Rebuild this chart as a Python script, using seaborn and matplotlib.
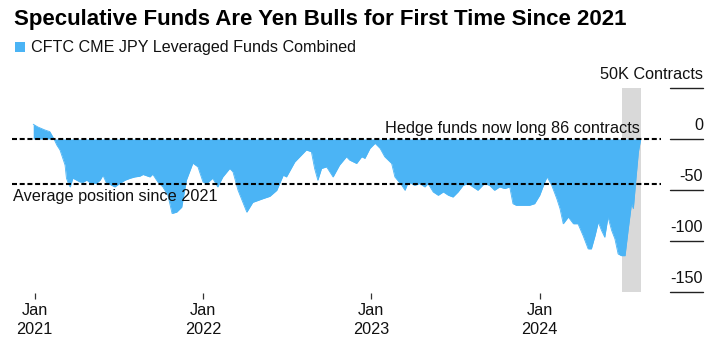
import matplotlib
matplotlib.use("Agg")
import matplotlib.pyplot as plt
import seaborn as sns
import pandas as pd
from matplotlib.patches import Rectangle

# ---------------- data ----------------
dates = ["2020-12-29","2021-01-08","2021-01-23","2021-02-03","2021-02-12","2021-02-18","2021-02-25","2021-03-03",
         "2021-03-08","2021-03-11","2021-03-15","2021-03-19","2021-03-25","2021-04-02","2021-04-09","2021-04-16",
         "2021-04-24","2021-05-03","2021-05-15","2021-05-23","2021-05-29","2021-06-05","2021-06-17","2021-06-24",
         "2021-07-05","2021-07-16","2021-07-27","2021-08-06","2021-08-17","2021-08-24","2021-09-08","2021-09-14",
         "2021-09-25","2021-10-06","2021-10-17","2021-10-26","2021-11-05","2021-11-16","2021-11-26","2021-12-10",
         "2021-12-21","2022-01-01","2022-01-09","2022-01-22","2022-02-02","2022-02-13","2022-02-28","2022-03-07",
         "2022-03-18","2022-04-06","2022-04-19","2022-05-11","2022-05-26","2022-06-10","2022-06-24","2022-07-01",
         "2022-07-19","2022-08-13","2022-08-24","2022-08-31","2022-09-07","2022-09-15","2022-09-26","2022-10-10",
         "2022-10-24","2022-11-08","2022-11-15","2022-11-30","2022-12-11","2022-12-18","2022-12-29","2023-01-09",
         "2023-01-20","2023-01-30","2023-02-14","2023-02-21","2023-03-08","2023-03-15","2023-03-22","2023-04-05",
         "2023-04-16","2023-04-27","2023-05-04","2023-05-15","2023-05-26","2023-06-06","2023-06-17","2023-06-27",
         "2023-07-08","2023-07-19","2023-07-30","2023-08-09","2023-08-20","2023-09-03","2023-09-14","2023-09-25",
         "2023-10-06","2023-10-17","2023-10-28","2023-11-04","2023-11-11","2023-11-25","2023-12-10","2023-12-21",
         "2024-01-01","2024-01-12","2024-01-17","2024-01-27","2024-02-07","2024-02-14","2024-02-21","2024-03-03",
         "2024-03-14","2024-03-24","2024-04-04","2024-04-15","2024-04-22","2024-04-30","2024-05-07","2024-05-14",
         "2024-05-21","2024-05-28","2024-06-05","2024-06-12","2024-06-19","2024-06-26","2024-07-04","2024-07-11",
         "2024-07-18","2024-07-22","2024-07-27","2024-08-02","2024-08-07"]
positions = [14.5, 11.8, 8.9, 7.2, 0, -5.9, -10.8, -18.7,
             -25.6, -38.4, -43.4, -47, -38.4, -40.4, -42.1, -42.4,
             -40.4, -43.4, -43.4, -40.4, -35.5, -42.4, -45.4, -47,
             -43.4, -40.4, -38.5, -37.2, -36.5, -34.8, -37.2, -34.5,
             -42.1, -47, -55.2, -73, -71.7, -66.8, -40.4, -23.7,
             -27.3, -42.1, -43.7, -38.5, -47, -37.2, -28.9, -32.2,
             -50.3, -71.7, -62.1, -58.5, -56.2, -50.3, -35.5, -37.2,
             -22.5, -10.8, -12.5, -28.9, -40.4, -28.9, -27.3, -37.2,
             -25.6, -17.4, -20.7, -24, -17.4, -19, -9.2, -4.2,
             -9.2, -17.4, -24, -37.2, -45.4, -50.3, -42.1, -45.4,
             -43.7, -47, -43.7, -51.9, -55.2, -51.9, -55.2, -56.9,
             -51.9, -45.4, -43.7, -47, -50.3, -43.7, -45.4, -50.3,
             -47, -48.6, -47, -63.4, -65, -65, -65, -63.4,
             -55.2, -42.1, -37.2, -45.4, -58.5, -68.3, -83.1, -76.5,
             -83.1, -83.1, -94.7, -107.7, -107.7, -94.7, -81.5, -89.7,
             -96.3, -76.5, -89.7, -97.9, -112.7, -114.4, -114.4, -88.1,
             -63.4, -68.3, -42.1, -12.5, 0.086]
average_position = -44.2
shade_start, shade_end = "2024-06-27", "2024-08-07"

xtick_dates = ["2021-01-01", "2022-01-01", "2023-01-01", "2024-01-01"]
xtick_labels = ["Jan\n2021", "Jan\n2022", "Jan\n2023", "Jan\n2024"]
ytick_values = [50, 0, -50, -100, -150]
ytick_labels = ["50K Contracts", "0", "-50", "-100", "-150"]

title = "Speculative Funds Are Yen Bulls for First Time Since 2021"
series_name = "CFTC CME JPY Leveraged Funds Combined"
note_now = "Hedge funds now long 86 contracts"
note_avg = "Average position since 2021"

# ---------------- style ----------------
sns.set_theme(style="white")
plt.rcParams["font.family"] = ["Liberation Sans", "DejaVu Sans"]
BLUE = "#4BB4F5"
GREY = "#d9d9d9"
TXT = "#111111"
FS = 11.7

df = pd.DataFrame({"date": pd.to_datetime(dates), "value": positions})

W, H = 718, 346
fig = plt.figure(figsize=(W / 100, H / 100), dpi=100)
ax = fig.add_axes([12 / W, (H - 292) / H, 691 / W, 204 / H])
ax.set_xlim(pd.Timestamp("2020-11-13"), pd.Timestamp("2024-12-20"))
ax.set_ylim(-150, 50)

ax.axvspan(pd.Timestamp(shade_start), pd.Timestamp(shade_end), color=GREY, lw=0, zorder=1)
ax.fill_between(df["date"], df["value"], 0, color=BLUE, lw=0, zorder=2)
sns.lineplot(data=df, x="date", y="value", ax=ax, color=BLUE, lw=0.6, zorder=2)

for v in [0, average_position]:
    ax.axhline(v, xmin=0, xmax=0.939, color="black", lw=1.5, dashes=(2.4, 1.3), zorder=3)

for v, lab in zip(ytick_values, ytick_labels):
    ax.axhline(v, xmin=0.952, xmax=1.0, color="#222222", lw=1, clip_on=False, zorder=3)
    ax.annotate(lab, xy=(1, v), xycoords=("axes fraction", "data"), xytext=(0, 6.5),
                textcoords="offset points", ha="right", va="baseline", fontsize=FS, color=TXT)

ax.annotate(note_avg, xy=(0.0015, average_position), xycoords=("axes fraction", "data"),
            xytext=(0, -12.2), textcoords="offset points", ha="left", va="baseline",
            fontsize=FS, color=TXT, zorder=4)
ax.annotate(note_now, xy=(0.909, 0), xycoords=("axes fraction", "data"),
            xytext=(0, 4.0), textcoords="offset points", ha="right", va="baseline",
            fontsize=FS, color=TXT, zorder=4)

for s in ax.spines.values():
    s.set_visible(False)
ax.spines["bottom"].set_position(("outward", 1))
ax.set_yticks([])
ax.set_xticks(pd.to_datetime(xtick_dates))
ax.set_xticklabels(xtick_labels)
ax.tick_params(axis="x", bottom=True, length=4, width=0.9, color="#333333", pad=3.2,
               labelsize=FS, labelcolor=TXT)
for t in ax.get_xticklabels():
    t.set_linespacing(1.33)
ax.set_xlabel("")
ax.set_ylabel("")
ax.grid(False)

fig.text(14 / W, 1 - 24.5 / H, title, fontsize=16.0, fontweight="bold", color="black", va="baseline")
fig.patches.append(Rectangle((15 / W, 1 - 52 / H), 10 / W, 10 / H, transform=fig.transFigure,
                             color=BLUE, lw=0))
fig.text(31.5 / W, 1 - 52.4 / H, series_name, fontsize=11.6, color=TXT, va="baseline")

fig.savefig("out.png", dpi=100)
